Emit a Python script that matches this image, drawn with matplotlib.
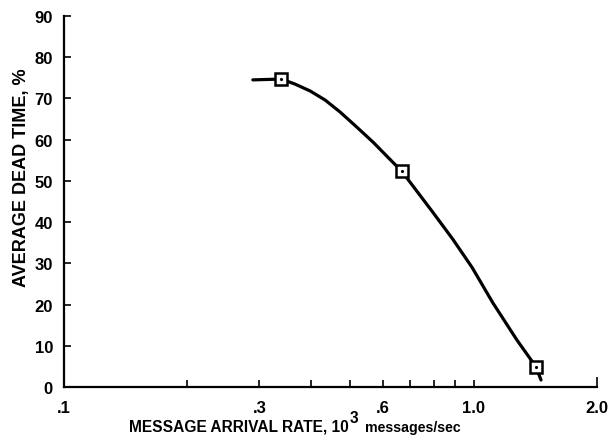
import matplotlib.pyplot as plt
from matplotlib.ticker import FixedLocator, NullFormatter

plt.rcParams['font.family'] = ['Liberation Sans', 'DejaVu Sans']
plt.rcParams['font.weight'] = 'bold'

# curve traced through the measured points
rate_curve = [0.289, 0.339, 0.366, 0.399, 0.434, 0.472, 0.519, 0.568, 0.625, 0.668,
              0.796, 0.890, 0.991, 1.114, 1.275, 1.419, 1.460]
dead_curve = [74.5, 74.7, 73.5, 71.8, 69.6, 66.7, 63.0, 59.4, 55.2, 52.3,
              42.3, 35.8, 29.0, 20.4, 11.4, 4.9, 1.7]

# measured points
rate_pts = [0.339, 0.668, 1.419]
dead_pts = [74.7, 52.3, 4.9]

xtick_vals = [0.1, 0.3, 0.6, 1.0, 2.0]
xtick_text = ['.1', '.3', '.6', '1.0', '2.0']
xminor_vals = [0.2, 0.4, 0.5, 0.7, 0.8, 0.9]
yticks = [0, 10, 20, 30, 40, 50, 60, 70, 80, 90]

fig = plt.figure(figsize=(6.12, 4.39), dpi=100)
ax = fig.add_axes([0.1046, 0.1162, 0.8709, 0.8451])

ax.plot(rate_curve, dead_curve, color='black', lw=2.3, solid_capstyle='round',
        solid_joinstyle='round', zorder=2)
ax.plot(rate_pts, dead_pts, ls='none', marker='s', ms=9, mfc='white', mec='black',
        mew=1.8, zorder=3)
ax.plot(rate_pts, dead_pts, ls='none', marker='.', ms=2.5, color='black', zorder=4)

ax.set_xscale('log')
ax.set_xlim(0.1, 2.0)
ax.set_ylim(0, 90)

ax.xaxis.set_major_locator(FixedLocator(xtick_vals))
ax.set_xticklabels(xtick_text)
ax.xaxis.set_minor_locator(FixedLocator(xminor_vals))
ax.xaxis.set_minor_formatter(NullFormatter())
ax.set_yticks(yticks)

for s in ['top', 'right']:
    ax.spines[s].set_visible(False)
for s in ['left', 'bottom']:
    ax.spines[s].set_linewidth(1.6)

ax.tick_params(axis='x', which='both', direction='in', length=5, width=1.2,
               labelsize=12, pad=9.5)
ax.tick_params(axis='y', direction='in', length=5, width=1.2, labelsize=12, pad=8)
# longer end tick at 2.0
ax.xaxis.get_major_ticks()[-1].tick1line.set_markersize(7.5)

fig.text(0.035, 0.596, 'AVERAGE DEAD TIME, %', rotation=90, fontsize=13,
         fontweight='bold', ha='center', va='center')

# x label: main text, superscript, then units
fig.canvas.draw()
r = fig.canvas.get_renderer()
inv = fig.transFigure.inverted()
t1 = fig.text(0.211, 0.016, 'MESSAGE ARRIVAL RATE, 10', fontsize=11.2, fontweight='bold',
              ha='left', va='baseline')
bb = t1.get_window_extent(r).transformed(inv)
t2 = fig.text(bb.x1 + 0.002, 0.037, '3', fontsize=11.2, fontweight='bold',
              ha='left', va='baseline')
bb2 = t2.get_window_extent(r).transformed(inv)
fig.text(bb2.x1 + 0.011, 0.016, 'messages/sec', fontsize=10.2, fontweight='bold',
         ha='left', va='baseline')

fig.savefig('out.png', dpi=100)
